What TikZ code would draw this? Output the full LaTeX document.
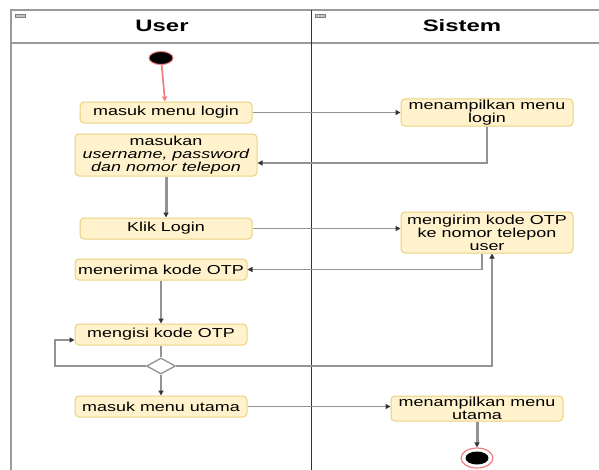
\documentclass[tikz,border=0pt]{standalone}
\usepackage{fontspec}
\setmainfont{Liberation Sans}
\newfontfamily\boxfont[FakeStretch=1.38]{Liberation Sans}
\newfontfamily\titlefont[FakeStretch=1.45]{Liberation Sans}
\usetikzlibrary{arrows.meta,shapes.geometric}

\definecolor{actfill}{HTML}{FFF2CC}
\definecolor{actline}{HTML}{EDCF7E}
\definecolor{flowgray}{HTML}{939393}
\definecolor{tipgray}{HTML}{333333}
\definecolor{lanegray}{HTML}{9A9A9A}
\definecolor{startred}{HTML}{F08080}

\tikzset{
  act/.style={draw=actline, fill=actfill, rounded corners=4pt, line width=1pt,
    minimum width=172pt, minimum height=21pt, align=center, inner sep=1pt,
    font=\boxfont\fontsize{13}{13}\selectfont},
  flow/.style={draw=flowgray, line width=1.7pt,
    -{Triangle[length=5pt,width=5pt,color=tipgray]}},
  plainflow/.style={draw=flowgray, line width=1.7pt},
  thickflow/.style={flow, line width=3pt},
  lanetitle/.style={font=\titlefont\bfseries\fontsize{16.5}{16.5}\selectfont, inner sep=0pt},
  collapse/.style={draw=gray, fill=lanegray!60, line width=0.5pt}
}

\begin{document}
\begin{tikzpicture}[x=1pt, y=-1pt]
\useasboundingbox (0,0) rectangle (599,469);
\fill[white] (0,0) rectangle (599,469);

% swimlane frame
\draw[lanegray, line width=1.8pt] (11,480) -- (11,10) -- (620,10);
\draw[lanegray, line width=1.8pt] (11,43) -- (620,43);
\draw[black!80, line width=1.4pt] (311.5,10) -- (311.5,480);
\draw[collapse] (15,14) rectangle (25,17);
\draw[collapse] (315,14) rectangle (325,17);
\node[lanetitle] (tuser) at (162,26) {User};
\node[lanetitle] (tsys) at (462,26) {Sistem};

% activities
\node[ellipse, draw=startred, fill=black, line width=1pt, minimum width=24pt, minimum height=13pt, inner sep=0pt] (start) at (161,58) {};
\node[act] (b1) at (166,112.5) {masuk menu login};
\node[act, minimum width=182pt, minimum height=42pt] (b2) at (166,155)
  {masukan\\\itshape username, password\\\itshape dan nomor telepon};
\node[act, minimum height=27pt] (b3) at (487,112.5) {menampilkan menu\\login};
\node[act] (b4) at (166,228.5) {Klik Login};
\node[act, minimum height=41pt] (b9) at (487,232.5) {mengirim kode OTP\\ke nomor telepon\\user};
\node[act] (b5) at (161,269.5) {menerima kode OTP};
\node[act] (b6) at (161,334.5) {mengisi kode OTP};
\node[diamond, draw=flowgray, fill=white, line width=1.3pt, aspect=1.8, minimum width=29pt, minimum height=16pt, inner sep=0pt] (dia) at (161,366) {};
\node[act] (b8) at (161,406.5) {masuk menu utama};
\node[act, minimum height=25pt] (b10) at (477,408.5) {menampilkan menu\\utama};
\node[ellipse, draw=startred, fill=white, line width=1.2pt, minimum width=32pt, minimum height=20pt, inner sep=0pt] (endc) at (477,458) {};
\node[ellipse, fill=black, minimum width=23pt, minimum height=13pt, inner sep=0pt] (endin) at (endc) {};
\coordinate (loopc) at (55,366);

% control flow
\draw[flow, draw=startred, -{Triangle[length=5pt,width=5pt,color=startred]}] (start) -- (b1);
\draw[flow] (b1.east) -- (b3.west);
\draw[flow] (b3.south) |- ([yshift=-8pt]b2.east);
\draw[thickflow] (b2.south) -- (b4.north);
\draw[flow] (b4.east) -- (b4.east -| b9.west);
\draw[flow] ([xshift=-5pt]b9.south) |- (b5.east);
\draw[flow] (b5.south) -- (b6.north);
\draw[plainflow] (b6.south) -- (dia.north);
\draw[flow] (dia.west) -- (loopc) |- ([yshift=-5.5pt]b6.west);
\draw[flow] (dia.east) -| ([xshift=5pt]b9.south);
\draw[flow] (dia.south) -- (b8.north);
\draw[flow] (b8.east) -- (b8.east -| b10.west);
\draw[thickflow] (b10.south) -- (endc.north);
\end{tikzpicture}
\end{document}
